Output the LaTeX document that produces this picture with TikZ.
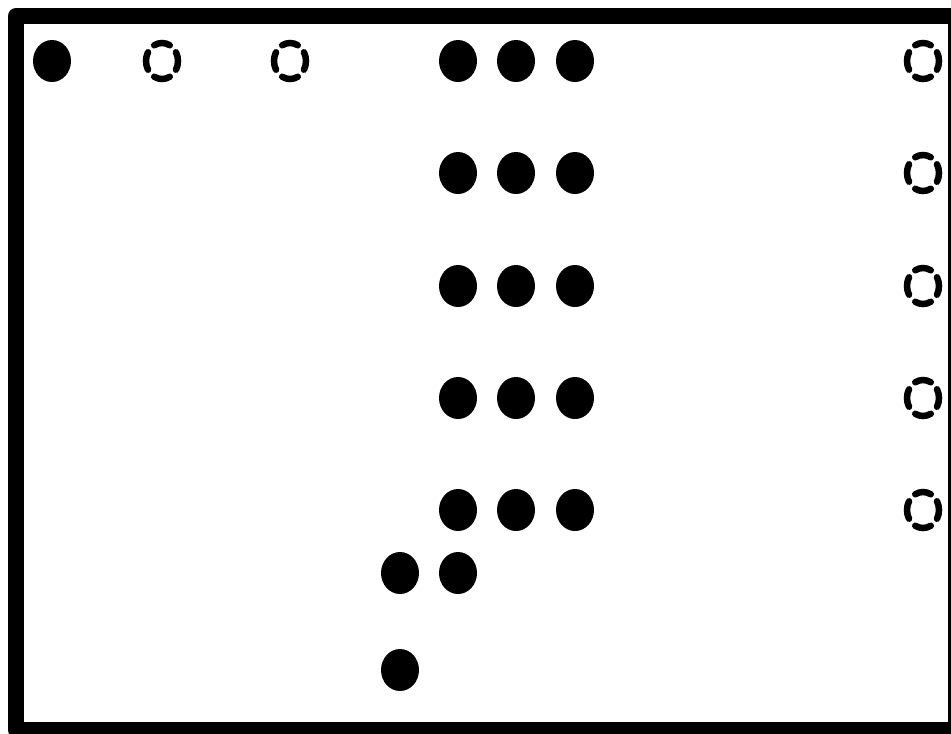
\documentclass[tikz,border=0pt]{standalone}
\usetikzlibrary{shapes.geometric}
\begin{document}
\begin{tikzpicture}[x=1pt,y=-1pt,
  dot/.style={ellipse,fill=black,inner sep=0pt,minimum width=38pt,minimum height=42pt},
  ringpic/.pic={
    \foreach \a in {0,90,180,270}{
      \draw[line width=6.5pt,line cap=round]
        (\a-29:16pt and 18pt) arc[start angle=\a-29,end angle=\a+29,x radius=16pt,y radius=18pt];
    }
  }]
\useasboundingbox (0,0) rectangle (951,734);
\fill[white] (0,0) rectangle (951,734);
\clip (0,0) rectangle (951,734);
\draw[line width=16pt,line join=round] (16,16) rectangle (956,730);
% row 1
\node[dot]  (a1) at (52,61) {};
\pic (r1) at (162,61) {ringpic};
\pic (r2) at (290,61) {ringpic};
\foreach \r/\y in {1/61,2/173,3/286,4/398,5/510}{
  \node[dot] (p\r a) at (458,\y) {};
  \node[dot] (p\r b) at (516,\y) {};
  \node[dot] (p\r c) at (575,\y) {};
  \pic (q\r) at (923,\y) {ringpic};
}
\node[dot] (s1) at (400,573) {};
\node[dot] (s2) at (458,573) {};
\node[dot] (t1) at (400,670) {};
\end{tikzpicture}
\end{document}
